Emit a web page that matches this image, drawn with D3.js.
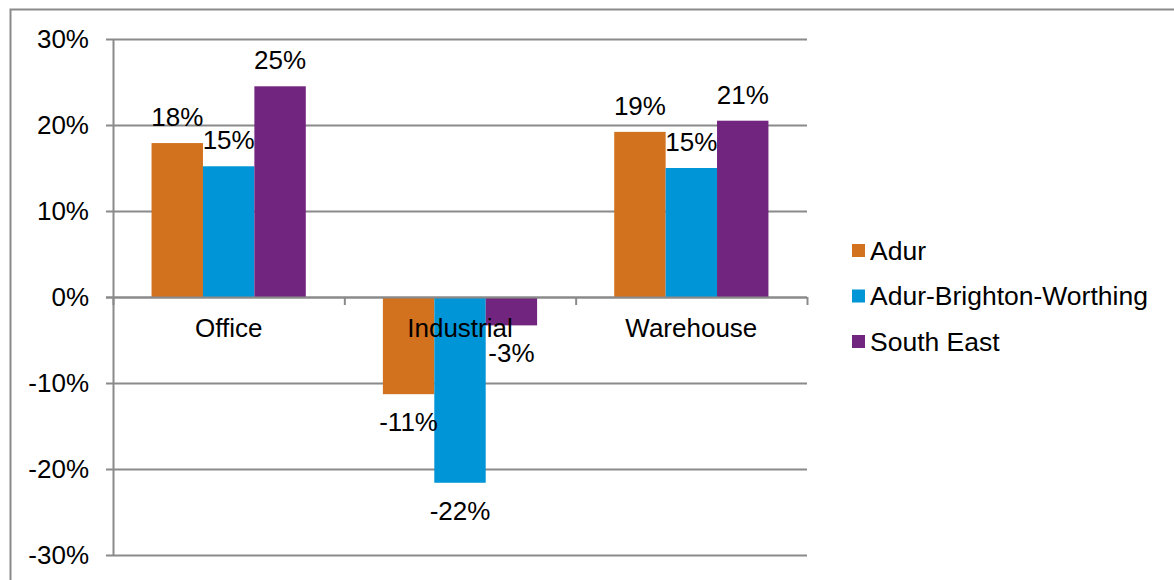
<!DOCTYPE html>
<html><head><meta charset="utf-8">
<script src="https://cdn.jsdelivr.net/npm/d3@7"></script>
<style>
html,body{margin:0;padding:0;background:#fff;}
svg{display:block;font-family:"Liberation Sans",Arial,sans-serif;}
</style></head>
<body>
<svg id="chart" width="1174" height="580"></svg>
<script>
const categories = ["Office", "Industrial", "Warehouse"];
const seriesNames = ["Adur", "Adur-Brighton-Worthing", "South East"];
const adur = [17.9, -11.3, 19.2];
const abw = [15.2, -21.6, 15.0];
const southEast = [24.5, -3.3, 20.5];
const labelAdur = ["18%", "-11%", "19%"];
const labelAbw = ["15%", "-22%", "15%"];
const labelSouthEast = ["25%", "-3%", "21%"];
const yTicks = [-30, -20, -10, 0, 10, 20, 30];
const colors = ["#D2711E", "#0095D7", "#72257E"];

const seriesValues = [adur, abw, southEast];
const seriesLabels = [labelAdur, labelAbw, labelSouthEast];

const svg = d3.select("#chart");
const fs = 26;
const legendFs = 26.5;
const gridColor = "#8a8a8a";

// outer frame
svg.append("path").attr("d", "M10.5,600 V9.5 H1200")
  .attr("fill", "none").attr("stroke", gridColor).attr("stroke-width", 2);

const x0 = d3.scaleBand().domain(categories).range([113, 807]).padding(0);
const x1 = d3.scaleBand().domain(seriesNames).range([0, x0.bandwidth()])
  .paddingInner(0).paddingOuter(0.75);
const y = d3.scaleLinear().domain([-30, 30]).range([555, 39]);

// gridlines
svg.append("g").selectAll("line").data(yTicks).join("line")
  .attr("x1", 106).attr("x2", 807)
  .attr("y1", d => Math.round(y(d)) + 0.5).attr("y2", d => Math.round(y(d)) + 0.5)
  .attr("stroke", gridColor).attr("stroke-width", 2);

// y axis
const yAxis = d3.axisLeft(y).tickValues(yTicks).tickSize(0).tickPadding(24)
  .tickFormat(d => d + "%");
const gy = svg.append("g").attr("transform", "translate(113,0)").call(yAxis);
gy.select(".domain").remove();
gy.selectAll("text").attr("font-size", fs).attr("fill", "#000")
  .attr("font-family", "Liberation Sans, Arial, sans-serif");
svg.append("line").attr("x1", 113.5).attr("x2", 113.5).attr("y1", 39).attr("y2", 556)
  .attr("stroke", gridColor).attr("stroke-width", 2);

// bars
const groups = svg.append("g").selectAll("g").data(categories).join("g")
  .attr("transform", c => `translate(${x0(c)},0)`);

groups.each(function(c, ci) {
  const g = d3.select(this);
  seriesNames.forEach((s, si) => {
    const v = seriesValues[si][ci];
    g.append("rect")
      .attr("x", x1(s)).attr("width", x1.bandwidth())
      .attr("y", y(Math.max(0, v))).attr("height", Math.abs(y(v) - y(0)))
      .attr("fill", colors[si]);
  });
});

// zero line on top with x ticks
svg.append("line").attr("x1", 106).attr("x2", 807)
  .attr("y1", Math.round(y(0)) + 0.5).attr("y2", Math.round(y(0)) + 0.5)
  .attr("stroke", gridColor).attr("stroke-width", 2);
const xTickPos = categories.map(c => x0(c)).concat([x0.range()[1]]);
svg.append("g").selectAll("line").data(xTickPos).join("line")
  .attr("x1", d => d + 0.5).attr("x2", d => d + 0.5)
  .attr("y1", y(0)).attr("y2", y(0) + 8)
  .attr("stroke", gridColor).attr("stroke-width", 2);

// category labels
svg.append("g").selectAll("text").data(categories).join("text")
  .attr("x", c => x0(c) + x0.bandwidth() / 2).attr("y", y(0) + 40)
  .attr("text-anchor", "middle").attr("font-size", fs).attr("fill", "#000")
  .text(c => c);

// data labels
groups.each(function(c, ci) {
  const g = d3.select(this);
  seriesNames.forEach((s, si) => {
    const v = seriesValues[si][ci];
    g.append("text")
      .attr("x", x1(s) + x1.bandwidth() / 2)
      .attr("y", v >= 0 ? y(v) - 17 : y(v) + 37)
      .attr("text-anchor", "middle").attr("font-size", fs).attr("fill", "#000")
      .text(seriesLabels[si][ci]);
  });
});

// legend
const legend = svg.append("g").selectAll("g").data(seriesNames).join("g")
  .attr("transform", (d, i) => `translate(852,${244 + i * 45.5})`);
legend.append("rect").attr("width", 13).attr("height", 13)
  .attr("fill", (d, i) => colors[i]);
legend.append("text").attr("x", 18).attr("y", 15.5)
  .attr("font-size", legendFs).attr("fill", "#000").text(d => d);
</script>
</body></html>
